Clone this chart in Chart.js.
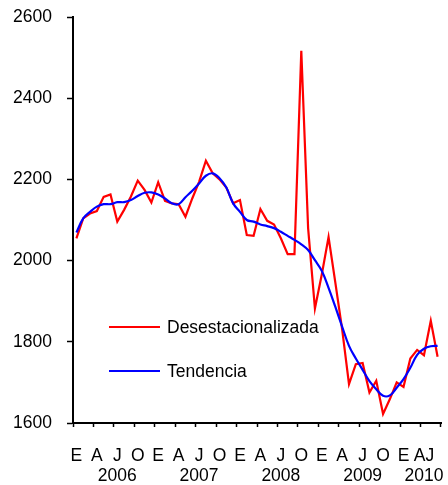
<!DOCTYPE html>
<html>
<head>
<meta charset="utf-8">
<script src="https://cdn.jsdelivr.net/npm/chart.js@4"></script>
<style>
  body { margin: 0; background: #fff; }
  canvas { display: block; }
</style>
</head>
<body>
<canvas id="paroChart" width="448" height="485"></canvas>
<script>
// months E..J per year, last year only to June
const years = ['2006', '2007', '2008', '2009', '2010'];
const monthsPerYear = [12, 12, 12, 12, 6];
const quarterLabels = ['E', 'A', 'J', 'O', 'E', 'A', 'J', 'O', 'E', 'A', 'J', 'O',
                       'E', 'A', 'J', 'O', 'E', 'AJ'];
const yTicks = [1600, 1800, 2000, 2200, 2400, 2600];

const desestacionalizada = [
  2055, 2104, 2116, 2122, 2157, 2163, 2096, 2125, 2158, 2197, 2174, 2143,
  2193, 2147, 2141, 2139, 2108, 2153, 2194, 2246, 2215, 2200, 2180, 2141,
  2149, 2063, 2061, 2127, 2098, 2089, 2055, 2016, 2016, 2517, 2080, 1882,
  1965, 2058, 1945, 1830, 1696, 1745, 1748, 1675, 1704, 1622, 1659, 1700,
  1689, 1759, 1780, 1767, 1852, 1763
];
const tendencia = [
  2069, 2104, 2120, 2133, 2139, 2139, 2144, 2144, 2149, 2159, 2167, 2168,
  2163, 2153, 2141, 2139, 2156, 2172, 2190, 2209, 2215, 2203, 2180, 2141,
  2120, 2100, 2096, 2089, 2085, 2080, 2071, 2061, 2051, 2040, 2026, 2001,
  1975, 1933, 1886, 1837, 1790, 1759, 1731, 1703, 1683, 1667, 1668, 1687,
  1708, 1736, 1768, 1783, 1789, 1790
];

const categories = [];
years.forEach((y, k) => {
  for (let m = 1; m <= monthsPerYear[k]; m++) categories.push(y + '-' + m);
});

const FONT = '"Liberation Sans", Arial, sans-serif';

// year names under their months (slightly right of centre, as in the original)
const yearLabels = {
  id: 'yearLabels',
  afterDraw(chart) {
    const x = chart.scales.x;
    const ctx = chart.ctx;
    ctx.save();
    ctx.font = '17.5px ' + FONT;
    ctx.fillStyle = '#000';
    ctx.textAlign = 'center';
    ctx.textBaseline = 'middle';
    let start = 0;
    years.forEach((y, k) => {
      const end = start + monthsPerYear[k];
      const cx = (x.getPixelForValue(start) + x.getPixelForValue(end)) / 2;
      ctx.fillText(y, cx, chart.chartArea.bottom + 53);
      start = end;
    });
    ctx.restore();
  }
};

// legend sitting inside the plot, lower left
const insideLegend = {
  id: 'insideLegend',
  afterDatasetsDraw(chart) {
    const { ctx, chartArea } = chart;
    const x0 = chartArea.left + 36;
    ctx.save();
    ctx.font = '17.5px ' + FONT;
    ctx.textBaseline = 'middle';
    ctx.fillStyle = '#000';
    chart.data.datasets.forEach((ds, i) => {
      const y = chartArea.top + 310 + i * 44;
      ctx.strokeStyle = ds.borderColor;
      ctx.lineWidth = 2;
      ctx.beginPath();
      ctx.moveTo(x0, y);
      ctx.lineTo(x0 + 51, y);
      ctx.stroke();
      ctx.fillText(ds.label, x0 + 58, y + 1);
    });
    ctx.restore();
  }
};

new Chart(document.getElementById('paroChart'), {
  type: 'line',
  data: {
    labels: categories,
    datasets: [{
      label: 'Desestacionalizada',
      data: desestacionalizada,
      borderColor: '#ff0000',
      borderWidth: 2.2,
      pointRadius: 0,
      tension: 0,
      order: 1
    }, {
      label: 'Tendencia',
      data: tendencia,
      borderColor: '#0000ff',
      borderWidth: 2.2,
      pointRadius: 0,
      tension: 0.4,
      order: 0
    }]
  },
  options: {
    responsive: false,
    animation: false,
    layout: { padding: { top: 17, right: 7, left: 0, bottom: 0 } },
    plugins: {
      legend: { display: false },
      tooltip: { enabled: false }
    },
    scales: {
      x: {
        offset: true,
        afterFit: (s) => {
          s.height = 62;
          s.paddingLeft = 0;
          s.paddingRight = 0;
        },
        border: { color: '#000', width: 2 },
        grid: {
          offset: true,
          drawOnChartArea: false,
          tickLength: 4,
          tickWidth: 1.5,
          tickColor: (c) => (c.index === undefined || c.index % 3 === 0) ? '#000' : 'rgba(0,0,0,0)'
        },
        ticks: {
          autoSkip: false,
          maxRotation: 0,
          padding: 19,
          color: '#000',
          font: { family: FONT, size: 17.5 },
          callback: (v, i) => i % 3 === 0 ? quarterLabels[i / 3] : ''
        }
      },
      y: {
        min: yTicks[0],
        max: yTicks[yTicks.length - 1],
        afterFit: (s) => {
          s.width = 73;
          s.paddingTop = 0;
          s.paddingBottom = 0;
        },
        afterBuildTicks: (s) => { s.ticks = yTicks.map(v => ({ value: v })); },
        border: { color: '#000', width: 2 },
        grid: {
          drawOnChartArea: false,
          tickLength: 6,
          tickWidth: 1.5,
          tickColor: '#000'
        },
        ticks: {
          padding: 15,
          color: '#000',
          font: { family: FONT, size: 17.5 },
          callback: (v) => String(v)
        }
      }
    }
  },
  plugins: [yearLabels, insideLegend]
});
</script>
</body>
</html>
